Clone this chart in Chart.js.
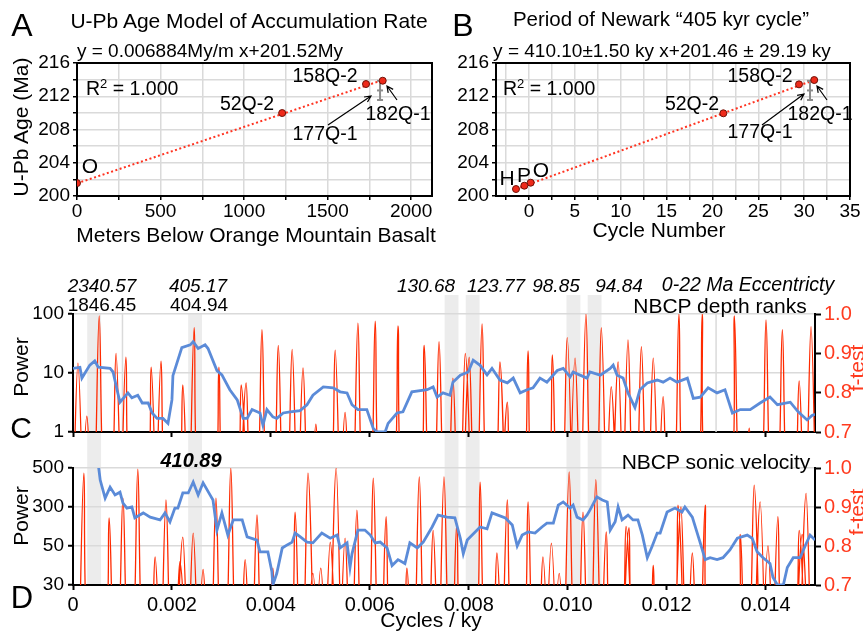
<!DOCTYPE html>
<html>
<head>
<meta charset="utf-8">
<script src="https://cdn.jsdelivr.net/npm/chart.js@4.4.1/dist/chart.umd.min.js"></script>
<style>
  body { margin: 0; background: #fff; }
  #page { position: relative; width: 863px; height: 631px; overflow: hidden; font-family: "Liberation Sans", Arial, sans-serif; }
  #page canvas { position: absolute; left: 0; top: 0; }
  .lbl { position: absolute; white-space: nowrap; line-height: 1; transform: translate(-50%, -50%); font-size: 20px; color: #000; }
  .lft { transform: translate(0, -50%); }
  .rot { transform: translate(-50%, -50%) rotate(-90deg); }
  .it { font-style: italic; }
  .red { color: #ff3b1f; }
  sup { font-size: 13px; vertical-align: 7px; line-height: 0; }
</style>
</head>
<body>
<div id="page">
  <canvas id="chartC" width="863" height="631"></canvas>
  <canvas id="chartD" width="863" height="631"></canvas>
  <canvas id="chartA" width="863" height="631"></canvas>
  <canvas id="chartB" width="863" height="631"></canvas>

  <!-- panel A text -->
  <div class="lbl" style="left:22px;top:25px;font-size:32px">A</div>
  <div class="lbl" style="left:249px;top:20px;font-size:21px">U-Pb Age Model of Accumulation Rate</div>
  <div class="lbl" style="left:210px;top:50px;font-size:19px">y = 0.006884My/m x+201.52My</div>
  <div class="lbl rot" style="left:20px;top:127px;font-size:21px">U-Pb Age (Ma)</div>
  <div class="lbl" style="left:256px;top:234px;font-size:21px">Meters Below Orange Mountain Basalt</div>
  <div class="lbl lft" style="left:86px;top:89px;font-size:19.5px">R<sup>2</sup> = 1.000</div>
  <div class="lbl" style="left:325px;top:76px;font-size:19.5px">158Q-2</div>
  <div class="lbl" style="left:247px;top:104px;font-size:19.5px">52Q-2</div>
  <div class="lbl" style="left:325px;top:134px;font-size:19.5px">177Q-1</div>
  <div class="lbl" style="left:398px;top:114px;font-size:19.5px">182Q-1</div>
  <div class="lbl" style="left:90px;top:165px;font-size:21px">O</div>

  <!-- panel B text -->
  <div class="lbl" style="left:463px;top:25px;font-size:32px">B</div>
  <div class="lbl" style="left:661px;top:19px;font-size:20.5px">Period of Newark “405 kyr cycle”</div>
  <div class="lbl" style="left:662px;top:50px;font-size:19px">y = 410.10±1.50 ky x+201.46 ± 29.19 ky</div>
  <div class="lbl" style="left:659px;top:229px;font-size:21px">Cycle Number</div>
  <div class="lbl lft" style="left:503px;top:89px;font-size:19.5px">R<sup>2</sup> = 1.000</div>
  <div class="lbl" style="left:760px;top:76px;font-size:19.5px">158Q-2</div>
  <div class="lbl" style="left:692px;top:104px;font-size:19.5px">52Q-2</div>
  <div class="lbl" style="left:760px;top:132px;font-size:19.5px">177Q-1</div>
  <div class="lbl" style="left:820px;top:114px;font-size:19.5px">182Q-1</div>
  <div class="lbl" style="left:507px;top:177px;font-size:21px">H</div>
  <div class="lbl" style="left:524px;top:174px;font-size:21px">P</div>
  <div class="lbl" style="left:541px;top:169px;font-size:21px">O</div>

  <!-- panel C text -->
  <div class="lbl it" style="left:102px;top:285px;font-size:19px">2340.57</div>
  <div class="lbl" style="left:102px;top:304px;font-size:19px">1846.45</div>
  <div class="lbl it" style="left:198px;top:285px;font-size:19px">405.17</div>
  <div class="lbl" style="left:199px;top:304px;font-size:19px">404.94</div>
  <div class="lbl it" style="left:426px;top:285px;font-size:19px">130.68</div>
  <div class="lbl it" style="left:496px;top:285px;font-size:19px">123.77</div>
  <div class="lbl it" style="left:556px;top:285px;font-size:19px">98.85</div>
  <div class="lbl it" style="left:619px;top:285px;font-size:19px">94.84</div>
  <div class="lbl it" style="left:748px;top:285px;font-size:19.5px">0-22 Ma Eccentricty</div>
  <div class="lbl" style="left:720px;top:305px;font-size:21px">NBCP depth ranks</div>
  <div class="lbl rot" style="left:20px;top:367px;font-size:21px">Power</div>
  <div class="lbl rot red" style="left:856px;top:368px;font-size:21px">f-test</div>
  <div class="lbl" style="left:21px;top:428px;font-size:30px">C</div>

  <!-- panel D text -->
  <div class="lbl it" style="left:191px;top:460px;font-size:20px;font-weight:bold">410.89</div>
  <div class="lbl" style="left:716px;top:461px;font-size:21px">NBCP sonic velocity</div>
  <div class="lbl rot" style="left:20px;top:516px;font-size:21px">Power</div>
  <div class="lbl rot red" style="left:856px;top:512px;font-size:21px">f-test</div>
  <div class="lbl" style="left:22px;top:597px;font-size:31px">D</div>
  <div class="lbl" style="left:431px;top:619px;font-size:21px">Cycles / ky</div>
</div>

<script>
// ---------- panel A: U-Pb age vs depth ----------
const samplesA = ["O", "52Q-2", "158Q-2", "182Q-1"];
const depthA = [0, 1228, 1730, 1830];
const ageA = [201.55, 209.98, 213.47, 213.87];
const fitDepthA = [0, 1830];
const fitAgeA = [201.52, 213.95];
const errDepthA = [1814, 1814, 1814];
const errAgeA = [211.55, 212.7, 213.85];

// ---------- panel B: U-Pb age vs cycle number ----------
const samplesB = ["H", "P", "O", "52Q-2", "158Q-2", "182Q-1"];
const cycleB = [-1.42, -0.51, 0.18, 21.19, 29.44, 31.1];
const ageB = [200.84, 201.24, 201.6, 209.95, 213.43, 213.95];
const fitCycleB = [-1.42, 31.1];
const fitAgeB = [200.84, 213.95];
const errCycleB = [30.64, 30.64, 30.64];
const errAgeB = [211.55, 212.7, 213.85];

// ---------- panel C: NBCP depth ranks spectrum ----------
const freqBlueC = [
  0, 0.00014, 0.00018, 0.00034, 0.00044, 0.00051, 0.00075, 0.00081, 0.00089, 0.00095,
  0.00111, 0.00119, 0.00131, 0.00140, 0.00152, 0.00160, 0.00170, 0.00182, 0.00192, 0.00200,
  0.00202, 0.00220, 0.00237, 0.00243, 0.00253, 0.00267, 0.00273, 0.00291, 0.00301, 0.00317,
  0.00332, 0.00344, 0.00352, 0.00362, 0.00378, 0.00384, 0.00392, 0.00404, 0.00412, 0.00425,
  0.00439, 0.00459, 0.00473, 0.00485, 0.00506, 0.00526, 0.00540, 0.00554, 0.00564, 0.00576,
  0.00594, 0.00607, 0.00615, 0.00631, 0.00637, 0.00655, 0.00667, 0.00685, 0.00716, 0.00728,
  0.00736, 0.00748, 0.00762, 0.00768, 0.00783, 0.00799, 0.00809, 0.00823, 0.00837, 0.00847,
  0.00863, 0.00878, 0.00890, 0.00904, 0.00918, 0.00930, 0.00944, 0.00958, 0.00979, 0.00991,
  0.01005, 0.01011, 0.01025, 0.01039, 0.01045, 0.01066, 0.01086, 0.01092, 0.01100, 0.01112,
  0.01122, 0.01136, 0.01146, 0.01161, 0.01181, 0.01193, 0.01207, 0.01221, 0.01242, 0.01254,
  0.01268, 0.01284, 0.01302, 0.01318, 0.01333, 0.01349, 0.01369, 0.01389, 0.01409, 0.01424,
  0.01450, 0.01466, 0.01484, 0.01494, 0.0150
];
const powerBlueC = [
  12, 12.5, 8.2, 13.6, 16, 12.6, 12, 10.4, 5.2, 3.2,
  4.6, 3.8, 4.2, 3.1, 3.1, 2.1, 1.7, 1.7, 1.4, 3.5,
  9, 27, 30, 34, 26, 30, 26, 11, 9.3, 5.2,
  3.5, 1.7, 1.7, 2.4, 2.1, 1.3, 2.4, 1.8, 1.7, 2.1,
  2.2, 2.3, 2.9, 4.2, 5.8, 5.6, 4.8, 4.6, 2.9, 2.4,
  2.4, 1.15, 1.0, 1.0, 1.4, 2.1, 2.2, 4.8, 5.2, 5.8,
  3.9, 4.6, 4.2, 7, 9.2, 10.4, 16.5, 13.5, 9.3, 12,
  7.6, 6.8, 8.2, 4.6, 5.2, 5.6, 8.2, 7, 11, 12,
  8.6, 10.4, 9.2, 8.2, 10.4, 9.2, 12, 13.6, 9.2, 8.2,
  4.6, 2.6, 5.2, 6.8, 7.6, 7, 8.2, 7, 8.2, 3.7,
  3.9, 5.6, 4.6, 5.2, 2.1, 2.4, 2.4, 3.1, 3.9, 2.9,
  3.2, 2.2, 1.6, 1.9, 2.0
];
const peakFreqC = [
  0.00010, 0.00028, 0.00053, 0.00087, 0.00107, 0.00158, 0.00178, 0.00222, 0.00245, 0.00295,
  0.00340, 0.00350, 0.00382, 0.00415, 0.00443, 0.00465, 0.00491, 0.00530, 0.00550, 0.00576,
  0.00611, 0.00657, 0.00710, 0.00740, 0.00768, 0.00793, 0.00801, 0.00827, 0.00863, 0.00878,
  0.00920, 0.00969, 0.00999, 0.01015, 0.01037, 0.01068, 0.01088, 0.01102, 0.01122, 0.01149,
  0.01173, 0.01193, 0.01225, 0.01272, 0.01337, 0.01367, 0.01401, 0.01434, 0.01468, 0.01492
];
const peakFtestC = [
  0.875, 0.74, 0.995, 0.90, 0.89, 0.865, 0.88, 0.82, 0.965, 0.865,
  0.82, 0.825, 0.96, 0.92, 0.91, 0.863, 0.72, 0.908, 0.75, 0.977,
  0.982, 0.97, 0.92, 0.93, 0.837, 0.90, 0.89, 0.975, 0.878, 0.776,
  0.906, 0.896, 0.94, 0.888, 1.0, 0.965, 0.815, 0.878, 0.934, 0.917,
  0.888, 0.79, 1.0, 1.0, 0.995, 0.71, 0.985, 0.96, 0.83, 0.968
];
const powerTicksC = [1, 10, 100];
const refLinesC = [0.001, 0.013];

// ---------- panel D: NBCP sonic velocity spectrum ----------
const freqBlueD = [
  0.00051, 0.00055, 0.00065, 0.00075, 0.00085, 0.00095, 0.00101, 0.00109, 0.00119, 0.00125,
  0.00142, 0.00156, 0.00176, 0.00186, 0.00196, 0.00206, 0.00212, 0.00222, 0.00233, 0.00243,
  0.00253, 0.00263, 0.00277, 0.00283, 0.00291, 0.00301, 0.00313, 0.00324, 0.00342, 0.00352,
  0.00372, 0.00378, 0.00394, 0.00402, 0.00404, 0.00412, 0.00423, 0.00433, 0.00443, 0.00449,
  0.00459, 0.00473, 0.00485, 0.00503, 0.00520, 0.00534, 0.00540, 0.00554, 0.00560, 0.00564,
  0.00576, 0.00590, 0.00601, 0.00611, 0.00621, 0.00635, 0.00645, 0.00657, 0.00671, 0.00681,
  0.00696, 0.00708, 0.00726, 0.00738, 0.00756, 0.00772, 0.00783, 0.00789, 0.00797, 0.00807,
  0.00823, 0.00837, 0.00847, 0.00859, 0.00874, 0.00888, 0.00898, 0.00908, 0.00920, 0.00934,
  0.00948, 0.00958, 0.00971, 0.00981, 0.00991, 0.01005, 0.01011, 0.01019, 0.01031, 0.01039,
  0.01045, 0.01059, 0.01070, 0.01080, 0.01086, 0.01096, 0.01102, 0.01110, 0.01122, 0.01132,
  0.01142, 0.01151, 0.01161, 0.01171, 0.01181, 0.01187, 0.01201, 0.01217, 0.01231, 0.01237,
  0.01252, 0.01268, 0.01278, 0.01288, 0.01302, 0.01314, 0.01328, 0.01343, 0.01363, 0.01373,
  0.01383, 0.01395, 0.01409, 0.01415, 0.01424, 0.01436, 0.01444, 0.01456, 0.01470, 0.01480,
  0.01490, 0.0150
];
const powerBlueD = [
  520, 438, 346, 402, 362, 376, 320, 293, 300, 230,
  262, 235, 217, 262, 205, 293, 293, 372, 372, 428,
  362, 424, 362, 336, 152, 262, 120, 217, 217, 108,
  88, 47, 47, 37, 30, 36, 49, 57, 75, 133,
  110, 75, 70, 133, 100, 120, 49, 70, 39, 46,
  152, 152, 120, 70, 75, 49, 40, 43, 41, 70,
  49, 75, 172, 248, 235, 230, 100, 46, 88, 120,
  172, 160, 262, 248, 230, 185, 50, 120, 140, 133,
  172, 197, 197, 310, 326, 293, 310, 235, 217, 248,
  280, 352, 336, 326, 152, 205, 300, 217, 248, 217,
  217, 120, 44, 50, 133, 133, 268, 293, 268, 300,
  235, 70, 43, 44, 43, 44, 48, 100, 120, 100,
  47, 44, 41, 34, 30, 30, 39, 44, 44, 50,
  120, 88
];
const peakFreqD = [
  0.00022, 0.00073, 0.00101, 0.00131, 0.00166, 0.00188, 0.00216, 0.00222, 0.00243, 0.00263,
  0.00289, 0.00319, 0.00348, 0.00372, 0.00404, 0.00449, 0.00475, 0.00485, 0.00501, 0.00520,
  0.00532, 0.00550, 0.00574, 0.00607, 0.00633, 0.00675, 0.00700, 0.00728, 0.00750, 0.00776,
  0.00823, 0.00857, 0.00878, 0.00920, 0.00950, 0.00967, 0.00983, 0.01003, 0.01031, 0.01057,
  0.01078, 0.01118, 0.01124, 0.01173, 0.01223, 0.01229, 0.01252, 0.01278, 0.01349, 0.01377,
  0.01389, 0.01405, 0.01425, 0.01468, 0.01474, 0.01482
];
const peakFtestD = [
  0.987, 0.872, 0.923, 0.997, 0.772, 0.918, 0.76, 0.823, 0.833, 0.74,
  0.923, 1.0, 0.765, 0.88, 0.743, 0.887, 0.987, 0.73, 0.743, 0.81,
  1.0, 0.82, 0.892, 0.974, 0.875, 0.743, 0.977, 0.84, 0.977, 0.858,
  0.964, 0.782, 0.918, 0.913, 0.772, 0.807, 0.73, 0.99, 0.887, 0.97,
  0.836, 0.85, 0.847, 0.75, 0.905, 0.9, 0.782, 0.905, 0.83, 0.956,
  0.913, 0.8, 0.875, 0.84, 0.83, 0.935
];
const powerTicksD = [30, 50, 300, 500];

// highlighted periods (ky), shaded across C and D
const bandPeriods = [2340.57, 405.17, 130.68, 123.77, 98.85, 94.84];

const BLUE = "#5b8bd8";
const RED = "#ff2a00";
const DOT_RED = "#ee2a1a";
const GRID = "#dadada";
const SPIKE_HALF = 0.0001;
const SPIKE_FLOOR = 0.5;
const BAND_HALF = 0.00014;

Chart.defaults.font.family = '"Liberation Sans", Arial, sans-serif';
Chart.defaults.color = "#000";

function pairs(xs, ys) {
  return xs.map((x, i) => ({ x: x, y: ys[i] }));
}

// each f-test peak drawn as a narrow spike rising from below the 0.7 floor
function spikes(freqs, vals) {
  const pts = [];
  freqs.forEach((f, i) => {
    pts.push({ x: f - SPIKE_HALF, y: SPIKE_FLOOR });
    pts.push({ x: f, y: vals[i] });
    pts.push({ x: f + SPIKE_HALF, y: SPIKE_FLOOR });
  });
  return pts;
}

// piecewise position of a power value between the labelled ticks of panel D
function levelD(v) {
  const n = powerTicksD.length;
  for (let i = 0; i < n - 1; i++) {
    const a = powerTicksD[i], b = powerTicksD[i + 1];
    if (v <= b || i === n - 2) return i + (v - a) / (b - a);
  }
}

const framePlugin = {
  id: "frame",
  beforeDatasetsDraw(chart) {
    const { ctx, chartArea: a } = chart;
    ctx.save();
    ctx.strokeStyle = "#000";
    ctx.lineWidth = 2;
    ctx.strokeRect(a.left, a.top, a.right - a.left, a.bottom - a.top);
    ctx.restore();
  }
};

const arrowPlugin = {
  id: "arrows",
  afterDraw(chart, args, opts) {
    const ctx = chart.ctx;
    (opts.list || []).forEach(([x0, y0, x1, y1]) => {
      const ang = Math.atan2(y1 - y0, x1 - x0);
      ctx.save();
      ctx.strokeStyle = "#000";
      ctx.lineWidth = 1.2;
      ctx.beginPath();
      ctx.moveTo(x0, y0);
      ctx.lineTo(x1, y1);
      ctx.moveTo(x1 - 7 * Math.cos(ang - 0.45), y1 - 7 * Math.sin(ang - 0.45));
      ctx.lineTo(x1, y1);
      ctx.lineTo(x1 - 7 * Math.cos(ang + 0.45), y1 - 7 * Math.sin(ang + 0.45));
      ctx.stroke();
      ctx.restore();
    });
  }
};

const bandPlugin = {
  id: "bands",
  beforeDraw(chart) {
    const ctx = chart.ctx;
    const xs = chart.scales.x;
    ctx.save();
    ctx.fillStyle = "#ececec";
    bandPeriods.forEach((p, i) => {
      const l = xs.getPixelForValue(1 / p - BAND_HALF);
      const r = xs.getPixelForValue(1 / p + BAND_HALF);
      const top = i < 2 ? 313 : 295;
      ctx.fillRect(l, top, r - l, 585 - top);
    });
    ctx.restore();
  },
  beforeDatasetsDraw(chart) {
    const ctx = chart.ctx;
    const a = chart.chartArea;
    ctx.save();
    ctx.strokeStyle = GRID;
    ctx.lineWidth = 1.5;
    refLinesC.forEach(f => {
      const x = chart.scales.x.getPixelForValue(f);
      ctx.beginPath();
      ctx.moveTo(x, a.top);
      ctx.lineTo(x, a.bottom);
      ctx.stroke();
    });
    ctx.restore();
  }
};

function topPanel(canvasId, cfg) {
  return new Chart(document.getElementById(canvasId), {
    type: "scatter",
    data: {
      datasets: [
        {
          data: pairs(cfg.px, cfg.py),
          pointRadius: 3.5,
          pointBackgroundColor: DOT_RED,
          pointBorderColor: "#6e1208",
          pointBorderWidth: 1
        },
        {
          data: pairs(cfg.ex, cfg.ey),
          showLine: true,
          borderColor: "#8c8c8c",
          borderWidth: 2,
          pointStyle: "line",
          pointRadius: 3,
          pointBorderColor: "#8c8c8c",
          pointBorderWidth: 2
        },
        {
          data: pairs(cfg.fx, cfg.fy),
          showLine: true,
          borderColor: "#ff3320",
          borderWidth: 2,
          borderDash: [2, 2.5],
          pointRadius: 0
        }
      ]
    },
    options: {
      responsive: false,
      animation: false,
      events: [],
      layout: { padding: cfg.padding },
      plugins: {
        legend: { display: false },
        tooltip: { enabled: false },
        arrows: { list: cfg.arrows }
      },
      scales: {
        x: {
          type: "linear",
          min: cfg.xMin,
          max: cfg.xMax,
          ticks: {
            stepSize: cfg.xStep,
            autoSkip: false,
            maxRotation: 0,
            includeBounds: false,
            padding: 0,
            font: { size: 19 },
            callback: v => (Math.abs(v % cfg.xLabelEvery) < 1e-9 ? String(v) : "")
          },
          grid: { color: GRID, lineWidth: 1.5, tickLength: 4, tickColor: "#000", tickWidth: 1.5 },
          border: { display: false },
          afterFit: s => { s.height = 30; }
        },
        y: {
          type: "linear",
          min: 200,
          max: 216,
          ticks: {
            stepSize: 2,
            autoSkip: false,
            includeBounds: false,
            padding: 3,
            font: { size: 19 },
            callback: v => (v % 4 === 0 ? String(v) : "")
          },
          grid: { color: GRID, lineWidth: 1.5, tickLength: 4, tickColor: "#000", tickWidth: 1.5 },
          border: { display: false },
          afterFit: s => { s.width = 50; }
        }
      }
    },
    plugins: [framePlugin, arrowPlugin]
  });
}

topPanel("chartA", {
  px: depthA, py: ageA,
  ex: errDepthA, ey: errAgeA,
  fx: fitDepthA, fy: fitAgeA,
  xMin: 0, xMax: 2125, xStep: 250, xLabelEvery: 500,
  padding: { left: 27, top: 63, right: 431, bottom: 405 },
  arrows: [[328, 125, 371, 96], [397, 100, 387, 86]]
});

topPanel("chartB", {
  px: cycleB, py: ageB,
  ex: errCycleB, ey: errAgeB,
  fx: fitCycleB, fy: fitAgeB,
  xMin: -3.6, xMax: 35, xStep: 2.5, xLabelEvery: 5,
  padding: { left: 446, top: 63, right: 13, bottom: 405 },
  arrows: [[762, 125, 804, 94], [827, 100, 817, 86]]
});

function spectrumPanel(canvasId, cfg) {
  return new Chart(document.getElementById(canvasId), {
    type: "scatter",
    data: {
      datasets: [
        {
          data: cfg.blue,
          yAxisID: "y",
          showLine: true,
          borderColor: BLUE,
          borderWidth: 2.8,
          pointRadius: 0
        },
        {
          data: cfg.red,
          yAxisID: "yF",
          showLine: true,
          borderColor: RED,
          borderWidth: 1.3,
          tension: 0.35,
          pointRadius: 0
        }
      ]
    },
    options: {
      responsive: false,
      animation: false,
      events: [],
      layout: { padding: cfg.padding },
      plugins: { legend: { display: false }, tooltip: { enabled: false } },
      scales: {
        x: {
          type: "linear",
          min: 0,
          max: 0.015,
          ticks: {
            stepSize: 0.002,
            autoSkip: false,
            maxRotation: 0,
            includeBounds: false,
            padding: 3,
            font: { size: 20 },
            callback: v => (cfg.xLabels ? (v === 0 ? "0" : v.toFixed(3)) : "")
          },
          grid: { drawOnChartArea: false, tickLength: 5, tickColor: "#000", tickWidth: 2 },
          border: { color: "#000", width: 2 },
          afterFit: s => { s.height = cfg.xHeight; }
        },
        y: cfg.yScale,
        yF: {
          type: "linear",
          position: "right",
          min: 0.7,
          max: 1.0,
          ticks: {
            stepSize: 0.1,
            color: "#ff3b1f",
            padding: 3,
            font: { size: 20 },
            callback: v => v.toFixed(1)
          },
          grid: { drawOnChartArea: false, tickLength: 6, tickColor: "#000", tickWidth: 2 },
          border: { color: "#000", width: 2 },
          afterFit: s => { s.width = 40; }
        }
      }
    },
    plugins: cfg.plugins
  });
}

spectrumPanel("chartC", {
  blue: pairs(freqBlueC, powerBlueC),
  red: spikes(peakFreqC, peakFtestC),
  xLabels: false,
  xHeight: 10,
  padding: { left: 23, top: 314, right: 8, bottom: 189 },
  plugins: [bandPlugin],
  yScale: {
    type: "logarithmic",
    min: 1,
    max: 100,
    afterBuildTicks: s => { s.ticks = powerTicksC.map(v => ({ value: v })); },
    ticks: { padding: 4, font: { size: 19 }, callback: v => String(v) },
    grid: { color: GRID, lineWidth: 1.5, tickLength: 5, tickColor: "#000", tickWidth: 2 },
    border: { color: "#000", width: 2 },
    afterFit: s => { s.width = 50; }
  }
});

spectrumPanel("chartD", {
  blue: freqBlueD.map((f, i) => ({ x: f, y: levelD(powerBlueD[i]) })),
  red: spikes(peakFreqD, peakFtestD),
  xLabels: true,
  xHeight: 30,
  padding: { left: 23, top: 468, right: 8, bottom: 16 },
  plugins: [],
  yScale: {
    type: "linear",
    min: 0,
    max: powerTicksD.length - 1,
    ticks: { stepSize: 1, padding: 4, font: { size: 19 }, callback: v => String(powerTicksD[v]) },
    grid: { color: GRID, lineWidth: 1.5, tickLength: 5, tickColor: "#000", tickWidth: 2 },
    border: { color: "#000", width: 2 },
    afterFit: s => { s.width = 50; }
  }
});
</script>
</body>
</html>
